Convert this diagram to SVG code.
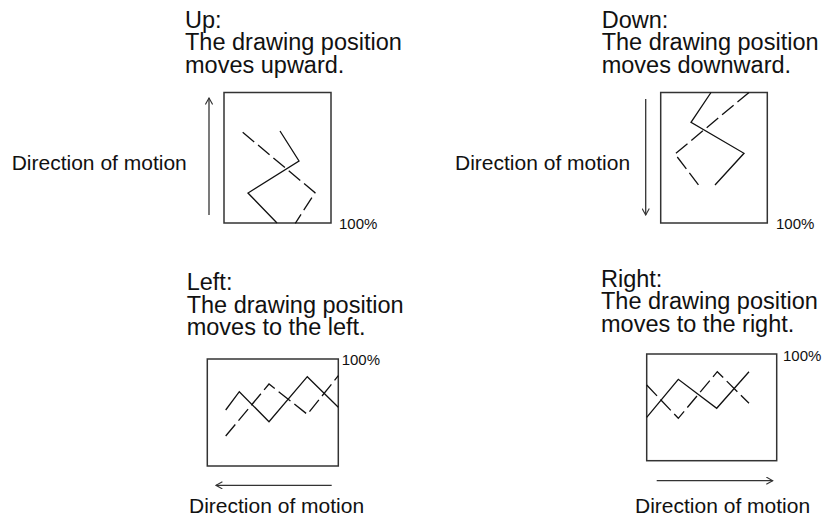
<svg xmlns="http://www.w3.org/2000/svg" width="831" height="516" viewBox="0 0 831 516">
  <defs>
    <style>
      text { font-family: "Liberation Sans", Arial, Helvetica, sans-serif; fill: #111; }
      .title { font-size: 23.5px; }
      .dir { font-size: 21px; }
      .pct { font-size: 15px; }
      .box { fill: #fff; stroke: #333; stroke-width: 1.5; }
      .solid { fill: none; stroke: #111; stroke-width: 1.3; }
      .dash { fill: none; stroke: #111; stroke-width: 1.3; stroke-dasharray: 15 5; }
      .arrow { fill: none; stroke: #333; stroke-width: 1.3; marker-end: url(#chev); }
    </style>
    <marker id="chev" viewBox="0 0 10 10" refX="9" refY="5" markerWidth="8" markerHeight="8" markerUnits="userSpaceOnUse" orient="auto">
      <path d="M1,0.5 L9,5 L1,9.5" fill="none" stroke="#333" stroke-width="1.4"/>
    </marker>
  </defs>
  <rect width="831" height="516" fill="#fff"/>

  <g id="panel-up">
    <text class="title" x="185" y="27.5">Up:</text>
    <text class="title" x="185" y="50">The drawing position</text>
    <text class="title" x="185" y="72.5">moves upward.</text>
    <rect class="box" x="224" y="92.5" width="107" height="130.5"/>
    <polyline class="solid" points="280,131 299,161 248,193 277,223"/>
    <polyline class="dash" points="242.7,132.3 315,192.7 295.3,223.3"/>
    <text class="pct" x="339" y="229">100%</text>
    <text class="dir" x="11.7" y="170">Direction of motion</text>
  </g>

  <g id="panel-down">
    <text class="title" x="601.7" y="27.5">Down:</text>
    <text class="title" x="601.7" y="50">The drawing position</text>
    <text class="title" x="601.7" y="72.5">moves downward.</text>
    <rect class="box" x="660.7" y="92.5" width="106.6" height="130.5"/>
    <polyline class="solid" points="711,92.5 691,122.3 744,153.3 715,185"/>
    <polyline class="dash" points="749,92.5 675,154 699.3,186"/>
    <text class="pct" x="776" y="229">100%</text>
    <text class="dir" x="455" y="170">Direction of motion</text>
  </g>

  <g id="panel-left">
    <text class="title" x="186.7" y="290">Left:</text>
    <text class="title" x="186.7" y="312.5">The drawing position</text>
    <text class="title" x="186.7" y="335">moves to the left.</text>
    <rect class="box" x="207.3" y="359" width="131" height="107"/>
    <polyline class="solid" points="225.7,410 239.3,391.7 269,421.7 307.3,376.7 338.3,407.3"/>
    <polyline class="dash" points="225.7,436 269,384 307.3,414.3 338.3,375.7"/>
    <text class="pct" x="341.7" y="365">100%</text>
    <text class="dir" x="189" y="513">Direction of motion</text>
  </g>

  <g id="panel-right">
    <text class="title" x="601" y="286.5">Right:</text>
    <text class="title" x="601" y="309">The drawing position</text>
    <text class="title" x="601" y="331.5">moves to the right.</text>
    <rect class="box" x="646.7" y="354" width="130" height="106.7"/>
    <polyline class="solid" points="646.7,417.3 678.3,379.3 716.7,408.3 749,371.7"/>
    <polyline class="dash" points="646.7,385 678.3,418.3 717.3,371.7 749,403.3"/>
    <text class="pct" x="783" y="361">100%</text>
    <text class="dir" x="635" y="513">Direction of motion</text>
  </g>

  <g id="connectors">
    <line class="arrow" x1="209" y1="215" x2="209" y2="98"/>
    <line class="arrow" x1="645.7" y1="99" x2="645.7" y2="215"/>
    <line class="arrow" x1="331.7" y1="485.3" x2="216" y2="485.3"/>
    <line class="arrow" x1="656.7" y1="480.7" x2="772.7" y2="480.7"/>
  </g>
</svg>
